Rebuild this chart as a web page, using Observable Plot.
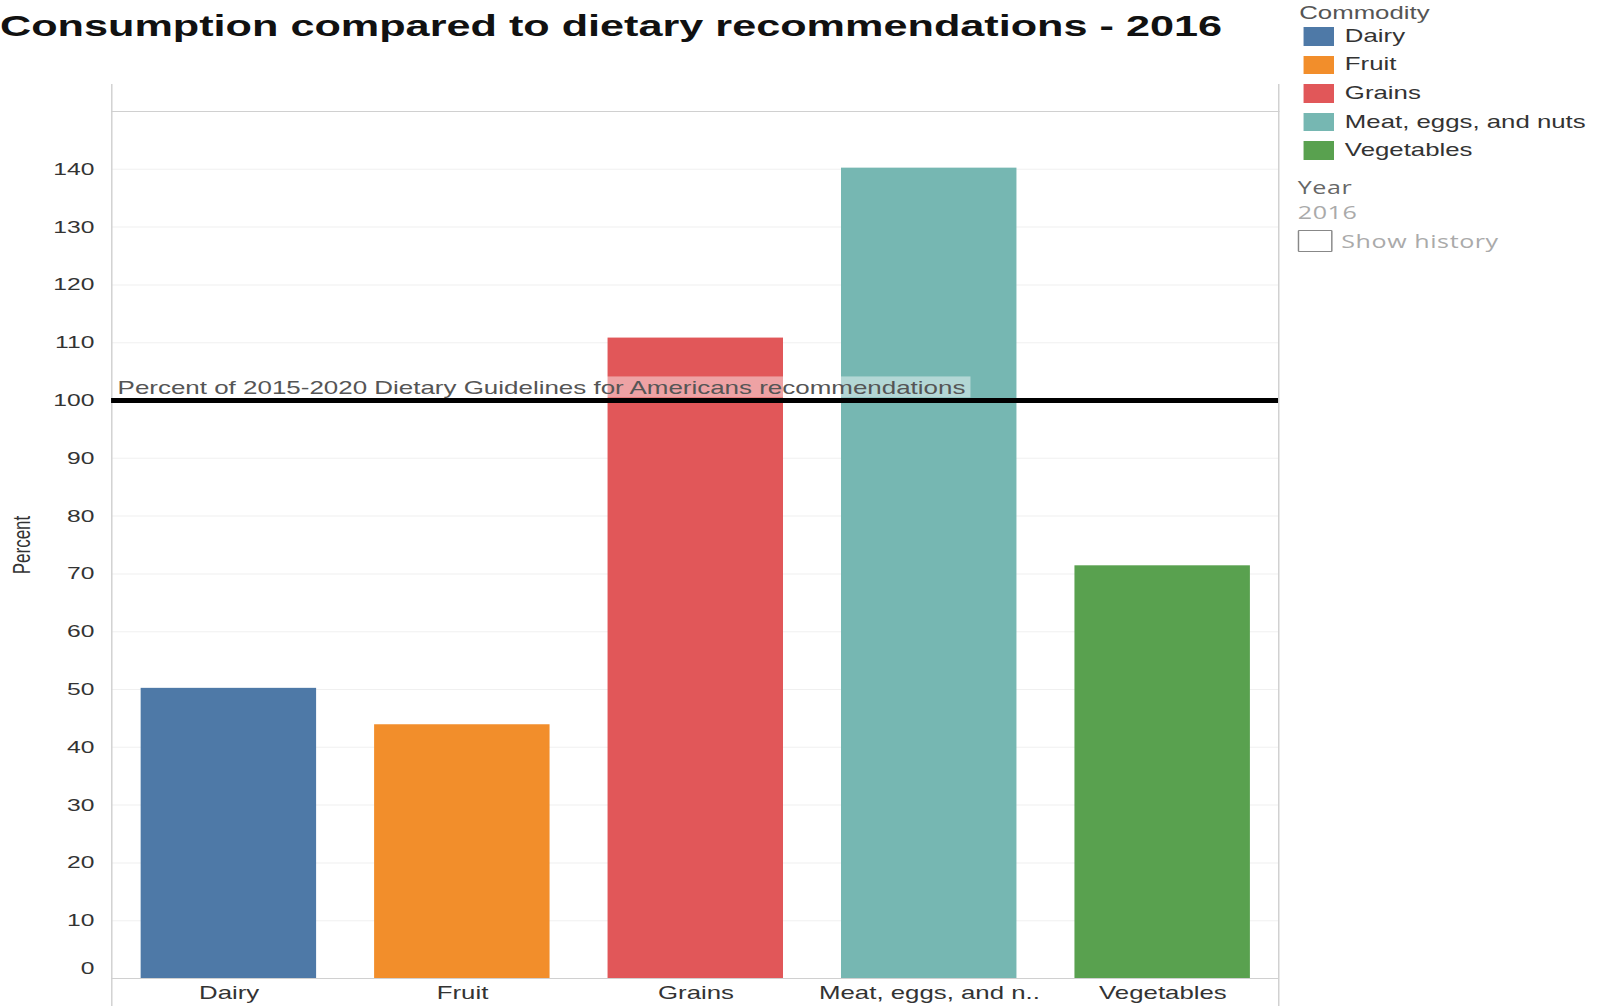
<!DOCTYPE html>
<html>
<head>
<meta charset="utf-8">
<script src="https://cdn.jsdelivr.net/npm/d3@7"></script>
<script src="https://cdn.jsdelivr.net/npm/@observablehq/plot@0.6"></script>
<style>
  html, body { margin: 0; padding: 0; background: #fff; overflow: hidden; }
  #stage {
    position: relative; width: 1104px; height: 1006px;
    transform: scaleX(1.45); transform-origin: 0 0;
    font-family: "Liberation Sans", Arial, sans-serif;
  }
  #title {
    position: absolute; left: 0; top: 11px; margin: 0;
    font: bold 29.8px/30px "Liberation Sans", Arial, sans-serif; color: #111; white-space: nowrap;
  }
  #chart { position: absolute; left: 0; top: 0; }
  #legend { position: absolute; left: 896px; top: 5px; font-size: 17.8px; line-height: 17px; }
  #legend .head { color: #555; margin-left: 0; height: 17px; }
  #legend .row { display: flex; align-items: center; height: 28.6px; margin-left: 3px; }
  #legend .sw { width: 20.7px; height: 18.5px; margin-right: 7.8px; }
  #legend .lab { color: #333; white-space: nowrap; }
  .filter { position: absolute; left: 895px; font-family: "Open Sans", sans-serif; font-size: 17.3px; line-height: 17px; white-space: nowrap; letter-spacing: 0.4px; }
  #year { top: 179px; color: #666; }
  #yearval { top: 204px; color: #aaa; }
  #hist { top: 230px; color: #aaa; display: flex; align-items: center; }
  #hist .box { width: 22px; height: 20px; border: 1.5px solid #888; border-radius: 1px; margin-right: 6px; }
</style>
</head>
<body>
<div id="stage">
  <div id="title"></div>
  <div id="chart"></div>
  <div id="legend"></div>
  <div id="year" class="filter"></div>
  <div id="yearval" class="filter"></div>
  <div id="hist" class="filter"><div class="box"></div><span></span></div>
</div>
<script>
const titleText = "Consumption compared to dietary recommendations - 2016";
const categories = ["Dairy", "Fruit", "Grains", "Meat, eggs, and nuts", "Vegetables"];
const axisLabels = ["Dairy", "Fruit", "Grains", "Meat, eggs, and n..", "Vegetables"];
const percents = [50.2, 43.9, 110.8, 140.2, 71.4];
const colors = ["#4e79a7", "#f28e2b", "#e15759", "#76b7b2", "#59a14f"];
const yTicks = [0, 10, 20, 30, 40, 50, 60, 70, 80, 90, 100, 110, 120, 130, 140];
const yDomain = [0, 150];
const guidelineValue = 100;
const guidelineLabel = "Percent of 2015-2020 Dietary Guidelines for Americans recommendations";
const yLabel = "Percent";
const legendTitle = "Commodity";
const yearTitle = "Year";
const yearValue = "2016";
const historyLabel = "Show history";

const data = categories.map((c, i) => ({commodity: c, percent: percents[i]}));

document.getElementById("title").textContent = titleText;

const chart = Plot.plot({
  width: 900,
  height: 1006,
  marginLeft: 76.6,
  marginRight: 18.6,
  marginTop: 111,
  marginBottom: 28,
  style: {fontFamily: "'Liberation Sans', Arial, sans-serif", fontSize: "17px", color: "#333", background: "transparent"},
  x: {type: "band", domain: categories, paddingInner: 0.25, paddingOuter: 0.11},
  y: {domain: yDomain},
  color: {domain: categories, range: colors},
  marks: [
    Plot.ruleY(yTicks.filter(t => t > 0), {stroke: "#f0f0f0", strokeWidth: 1}),
    Plot.barY(data, {x: "commodity", y: "percent", fill: "commodity"}),
    Plot.ruleY([0], {stroke: "#d0d0d0", strokeWidth: 1}),
    Plot.frame({anchor: "top", stroke: "#d0d0d0"}),
    Plot.frame({anchor: "left", stroke: "#d0d0d0", insetTop: -27, insetBottom: -28}),
    Plot.frame({anchor: "right", stroke: "#d0d0d0", insetTop: -27, insetBottom: -28}),
    Plot.axisY({ticks: yTicks.filter(t => t > 0), tickSize: 0, tickPadding: 12, label: null, fontSize: 17}),
    Plot.axisY({ticks: yTicks.filter(t => t === 0), tickSize: 0, tickPadding: 12, label: null, fontSize: 17, dy: -10}),
    Plot.axisX({tickSize: 0, tickPadding: 8, label: null, fontSize: 17.8,
      tickFormat: d => axisLabels[categories.indexOf(d)]}),
    Plot.ruleY([guidelineValue], {stroke: "#000", strokeWidth: 5}),
    Plot.text([guidelineLabel], {text: d => d, y: () => guidelineValue, frameAnchor: "left",
      textAnchor: "start", lineAnchor: "bottom", dx: 4, dy: -7, fill: "#555", fontSize: 17.9}),
    Plot.text([yLabel], {text: d => d, frameAnchor: "left", textAnchor: "middle", lineAnchor: "middle",
      rotate: -90, dx: -62, fill: "#333", fontSize: 17})
  ]
});
document.getElementById("chart").appendChild(chart);

// translucent box behind the guideline label, sized from the rendered text
d3.select(chart).selectAll("text").each(function() {
  if (this.textContent === guidelineLabel) {
    const bb = this.getBBox();
    d3.select(this.parentNode).insert("rect", () => this)
      .attr("transform", this.getAttribute("transform"))
      .attr("x", bb.x - 1.5).attr("y", bb.y - 1)
      .attr("width", bb.width + 5).attr("height", bb.height + 1)
      .attr("fill", "#fff").attr("fill-opacity", 0.45);
  }
});

const legend = d3.select("#legend");
legend.append("div").attr("class", "head").text(legendTitle);
categories.forEach((c, i) => {
  const row = legend.append("div").attr("class", "row");
  row.append("div").attr("class", "sw").style("background", colors[i]);
  row.append("div").attr("class", "lab").text(c);
});
document.getElementById("year").textContent = yearTitle;
document.getElementById("yearval").textContent = yearValue;
document.querySelector("#hist span").textContent = historyLabel;
</script>
</body>
</html>
